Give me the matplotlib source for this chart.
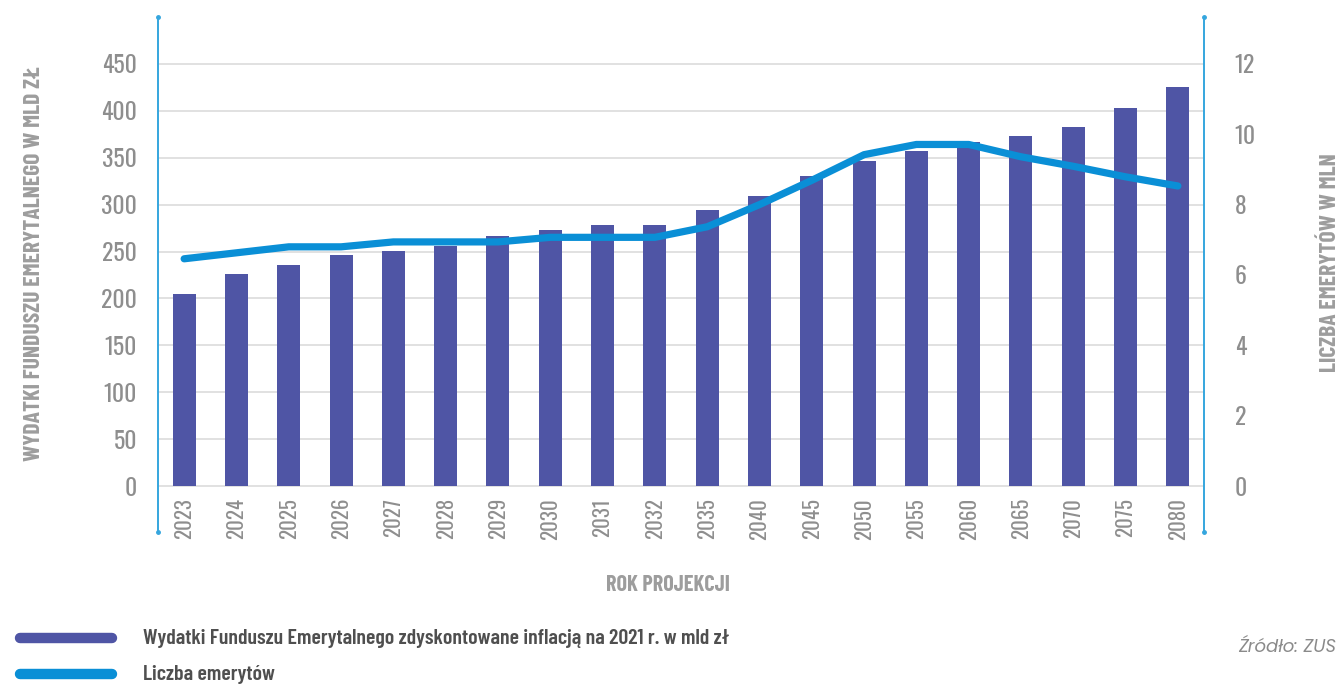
import matplotlib
matplotlib.use("Agg")
import matplotlib.pyplot as plt
from matplotlib import font_manager
from matplotlib.lines import Line2D

# data
years = ["2023", "2024", "2025", "2026", "2027", "2028", "2029", "2030", "2031", "2032",
         "2035", "2040", "2045", "2050", "2055", "2060", "2065", "2070", "2075", "2080"]
expenses = [205, 226, 236, 246, 251, 256, 267, 273, 278, 278,
            294, 309, 330, 346, 357, 367, 373, 383, 403, 425]
pensioners = [6.46, 6.63, 6.80, 6.80, 6.94, 6.94, 6.94, 7.07, 7.07, 7.07,
              7.37, 8.0, 8.69, 9.42, 9.71, 9.71, 9.36, 9.09, 8.79, 8.53]
left_ticks = [0, 50, 100, 150, 200, 250, 300, 350, 400, 450]
right_ticks = [0, 2, 4, 6, 8, 10, 12]

BAR = "#4f55a5"
LINE = "#0a8fd6"
SPINE = "#35a6de"
GRAY = "#8e8e8e"
TITLE = "#9d9d9d"

installed = {f.name for f in font_manager.fontManager.ttflist}


def pick(*cands):
    for c in cands:
        if c in installed:
            return [c, "DejaVu Sans"]
    return ["DejaVu Sans"]


TICKF = pick("Oswald", "Barlow Condensed", "Roboto Condensed", "IBM Plex Sans Condensed")
HEADF = pick("Barlow Condensed", "Roboto Condensed", "IBM Plex Sans Condensed", "Oswald")
LEGF = pick("Barlow Condensed", "Roboto Condensed", "Oswald", "IBM Plex Sans Condensed")
SRCF = pick("Poppins", "Questrial", "Open Sans")

plt.rcParams["font.family"] = TICKF

fig = plt.figure(figsize=(13.39, 6.86), dpi=100)
ax = fig.add_axes([0.118, 0.2245, 0.7812, 0.7507])
ax2 = ax.twinx()

x = list(range(len(years)))
ax.bar(x, expenses, width=0.44, color=BAR, zorder=2)
ax2.plot(x, pensioners, color=LINE, lw=5.2, solid_capstyle="round", solid_joinstyle="round", zorder=3)

ax.set_xlim(-0.5, len(years) - 0.5)
ax.set_ylim(-49, 500)
ax2.set_ylim(-49 / 37.5, 500 / 37.5)

ax.set_yticks(left_ticks)
ax2.set_yticks(right_ticks)
ax.set_xticks(x)
ax.set_xticklabels(years, rotation=90)

ax.grid(axis="y", color="#dcdcdc", lw=1.2, zorder=0)
ax.set_axisbelow(True)

ax.tick_params(axis="y", length=0, pad=15, labelsize=17, labelcolor=GRAY)
ax2.tick_params(axis="y", length=0, pad=22, labelsize=17, labelcolor=GRAY)
ax.tick_params(axis="x", length=0, pad=-24.5, labelsize=15, labelcolor=GRAY)
for lab in ax.get_xticklabels() + ax.get_yticklabels() + ax2.get_yticklabels():
    lab.set_fontweight(300)

for a in (ax, ax2):
    a.spines["top"].set_visible(False)
    a.spines["bottom"].set_visible(False)
    a.spines["left"].set_color(SPINE)
    a.spines["right"].set_color(SPINE)
    a.spines["left"].set_linewidth(1.2)
    a.spines["right"].set_linewidth(1.2)

# little dots at the ends of the vertical axis lines
for xe in (0, 1):
    ax.plot([xe, xe], [0, 1], ls="none", marker="o", ms=2.5, color=SPINE,
            transform=ax.transAxes, clip_on=False)

ax.set_ylabel("WYDATKI FUNDUSZU EMERYTALNEGO W MLD ZŁ", fontsize=17, fontweight="bold",
              color=TITLE, family=HEADF, va="center")
ax.yaxis.set_label_coords(-0.119, 0.521)
ax2.set_ylabel("LICZBA EMERYTÓW W MLN", fontsize=17, fontweight="bold", color=TITLE,
               family=HEADF, va="center")
ax2.yaxis.set_label_coords(1.1205, 0.524)

fig.text(668 / 1339, 1 - 585 / 686, "ROK PROJEKCJI", ha="center", va="center",
         fontsize=16, fontweight="bold", color=TITLE, family=HEADF)

# legend drawn by hand at the bottom
legend_items = [(BAR, "Wydatki Funduszu Emerytalnego zdyskontowane inflacją na 2021 r. w mld zł", 638),
                (LINE, "Liczba emerytów", 674)]
for col, label, ypx in legend_items:
    yf = 1 - ypx / 686
    fig.add_artist(Line2D([20 / 1339, 112 / 1339], [yf, yf], color=col, lw=7.5,
                          solid_capstyle="round", transform=fig.transFigure))
    fig.text(143 / 1339, yf, label, ha="left", va="center", fontsize=15.7,
             fontweight=600, color="#4f4f4f", family=LEGF)

fig.text(1336 / 1339, 1 - 648 / 686, "Źródło: ZUS", ha="right", va="center",
         fontsize=13, style="italic", color="#8a8a8a", family=SRCF)

fig.savefig("out.png", dpi=100)
